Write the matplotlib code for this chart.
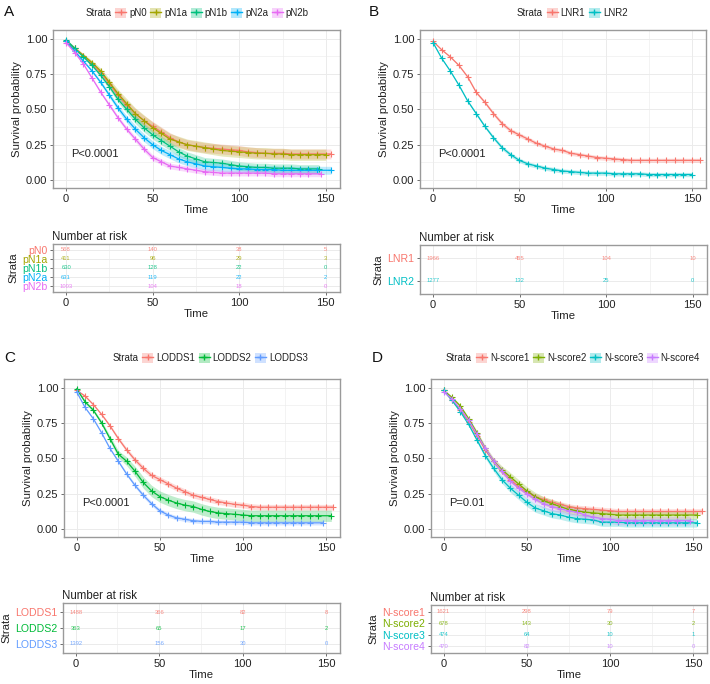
import numpy as np
import matplotlib
matplotlib.use("Agg")
import matplotlib.pyplot as plt
from matplotlib.patches import Patch
from matplotlib.lines import Line2D

plt.rcParams["font.family"] = ["Liberation Sans", "DejaVu Sans"]

# -----------------------------
# DATA
# -----------------------------
grid = list(range(0, 160, 5))
risk_times = [0, 50, 100, 150]

# Panel A
names_a = ["pN0", "pN1a", "pN1b", "pN2a", "pN2b"]
colors_a = ["#F8766D", "#A3A500", "#00BF7D", "#00B0F6", "#E76BF3"]
surv_a = [
    [0.98, 0.93, 0.88, 0.82, 0.76, 0.68, 0.60, 0.53, 0.47, 0.42, 0.38, 0.34, 0.30, 0.27, 0.25, 0.24,
     0.23, 0.225, 0.22, 0.215, 0.21, 0.20, 0.195, 0.19, 0.19, 0.19, 0.185, 0.185, 0.185, 0.185, 0.185],
    [0.98, 0.93, 0.88, 0.83, 0.77, 0.69, 0.61, 0.54, 0.47, 0.42, 0.37, 0.33, 0.29, 0.27, 0.25, 0.24,
     0.23, 0.22, 0.21, 0.205, 0.20, 0.195, 0.19, 0.19, 0.185, 0.185, 0.18, 0.18, 0.18, 0.18, 0.18],
    [0.99, 0.93, 0.87, 0.81, 0.74, 0.66, 0.57, 0.50, 0.43, 0.37, 0.32, 0.28, 0.24, 0.20, 0.17, 0.15,
     0.13, 0.125, 0.12, 0.11, 0.10, 0.095, 0.09, 0.09, 0.085, 0.085, 0.085, 0.08, 0.08, 0.08],
    [0.98, 0.91, 0.84, 0.77, 0.69, 0.60, 0.51, 0.43, 0.36, 0.30, 0.25, 0.21, 0.18, 0.15, 0.13, 0.115,
     0.10, 0.095, 0.09, 0.085, 0.08, 0.08, 0.075, 0.075, 0.075, 0.07, 0.07, 0.07, 0.07, 0.07, 0.07],
    [0.97, 0.90, 0.82, 0.72, 0.62, 0.53, 0.44, 0.36, 0.29, 0.22, 0.16, 0.13, 0.10, 0.09, 0.08, 0.07,
     0.06, 0.055, 0.05, 0.05, 0.05, 0.05, 0.05, 0.05, 0.045, 0.045, 0.045, 0.045, 0.045, 0.045],
]
ends_a = [153, 150, 146, 153, 147]
ci_a = [0.035, 0.04, 0.03, 0.028, 0.02]
risk_a = [[568, 140, 38, 5], [411, 96, 29, 3], [630, 128, 22, 0], [631, 119, 22, 2], [1003, 104, 18, 0]]

# Panel B
names_b = ["LNR1", "LNR2"]
colors_b = ["#F8766D", "#00BFC4"]
surv_b = [
    [0.98, 0.92, 0.87, 0.81, 0.73, 0.62, 0.55, 0.47, 0.40, 0.35, 0.32, 0.29, 0.26, 0.24, 0.22, 0.21,
     0.19, 0.18, 0.17, 0.16, 0.155, 0.15, 0.145, 0.14, 0.14, 0.14, 0.14, 0.14, 0.14, 0.14, 0.14, 0.14],
    [0.97, 0.86, 0.77, 0.67, 0.56, 0.47, 0.38, 0.30, 0.23, 0.18, 0.14, 0.115, 0.10, 0.085, 0.075, 0.065,
     0.06, 0.055, 0.05, 0.05, 0.05, 0.045, 0.045, 0.045, 0.045, 0.04, 0.04, 0.04, 0.04, 0.04, 0.04],
]
ends_b = [155, 150]
ci_b = [0.015, 0.015]
risk_b = [[1966, 455, 104, 10], [1277, 132, 25, 0]]

# Panel C
names_c = ["LODDS1", "LODDS2", "LODDS3"]
colors_c = ["#F8766D", "#00BA38", "#619CFF"]
surv_c = [
    [0.98, 0.94, 0.88, 0.81, 0.73, 0.64, 0.56, 0.49, 0.43, 0.38, 0.35, 0.32, 0.29, 0.265, 0.24, 0.225,
     0.21, 0.195, 0.185, 0.175, 0.17, 0.16, 0.155, 0.155, 0.155, 0.155, 0.155, 0.155, 0.155, 0.155, 0.155, 0.155],
    [0.99, 0.90, 0.84, 0.75, 0.64, 0.53, 0.48, 0.41, 0.33, 0.27, 0.23, 0.205, 0.185, 0.17, 0.16, 0.14,
     0.125, 0.115, 0.11, 0.105, 0.10, 0.095, 0.095, 0.095, 0.095, 0.095, 0.095, 0.095, 0.095, 0.095, 0.095],
    [0.97, 0.86, 0.78, 0.68, 0.57, 0.48, 0.39, 0.31, 0.24, 0.18, 0.13, 0.10, 0.08, 0.07, 0.06, 0.055,
     0.055, 0.05, 0.05, 0.05, 0.05, 0.045, 0.045, 0.045, 0.045, 0.045, 0.045, 0.045, 0.045, 0.045],
]
ends_c = [154, 153, 148]
ci_c = [0.02, 0.04, 0.015]
risk_c = [[1488, 366, 82, 8], [363, 65, 17, 2], [1392, 156, 30, 0]]

# Panel D
names_d = ["N-score1", "N-score2", "N-score3", "N-score4"]
colors_d = ["#F8766D", "#7CAE00", "#00BFC4", "#C77CFF"]
surv_d = [
    [0.98, 0.91, 0.84, 0.76, 0.66, 0.56, 0.48, 0.41, 0.35, 0.30, 0.26, 0.23, 0.21, 0.19, 0.175, 0.16,
     0.15, 0.145, 0.14, 0.135, 0.13, 0.125, 0.125, 0.125, 0.125, 0.125, 0.125, 0.125, 0.125, 0.125, 0.125, 0.125],
    [0.98, 0.93, 0.87, 0.78, 0.68, 0.57, 0.48, 0.42, 0.37, 0.32, 0.27, 0.23, 0.20, 0.18, 0.16, 0.14,
     0.13, 0.12, 0.115, 0.11, 0.105, 0.10, 0.10, 0.10, 0.10, 0.10, 0.10, 0.10, 0.10, 0.10, 0.10],
    [0.98, 0.91, 0.83, 0.74, 0.63, 0.52, 0.43, 0.35, 0.29, 0.24, 0.19, 0.15, 0.13, 0.11, 0.10, 0.085,
     0.075, 0.07, 0.065, 0.05, 0.05, 0.05, 0.045, 0.045, 0.045, 0.045, 0.045, 0.045, 0.045, 0.045, 0.045],
    [0.97, 0.92, 0.85, 0.77, 0.67, 0.57, 0.48, 0.41, 0.34, 0.29, 0.25, 0.21, 0.18, 0.16, 0.145, 0.13,
     0.12, 0.10, 0.085, 0.075, 0.07, 0.06, 0.06, 0.06, 0.06, 0.06, 0.06, 0.06, 0.06, 0.06],
]
ends_d = [155, 152, 152, 148]
ci_d = [0.02, 0.03, 0.03, 0.03]
risk_d = [[1621, 298, 79, 7], [678, 143, 30, 2], [474, 64, 10, 1], [470, 82, 10, 0]]

# -----------------------------
# LAYOUT (pixels)
# -----------------------------
W, H = 710, 684
fig = plt.figure(figsize=(W / 100, H / 100), dpi=100)


def px_axes(left, top, right, bottom):
    return fig.add_axes([left / W, 1 - bottom / H, (right - left) / W, (bottom - top) / H])


XLIM = (-7.6, 158.2)
FRAME = "#9a9a9a"
GRIDC = "#ebebeb"
TXT = "#222222"


def style_axes(ax):
    for s in ax.spines.values():
        s.set_color(FRAME)
        s.set_linewidth(1.0)
    ax.tick_params(length=2.5, width=0.6, color="#555555", labelsize=8, labelcolor=TXT, pad=1.5)
    ax.set_xlim(*XLIM)
    ax.set_xticks([0, 50, 100, 150])
    ax.set_xticks([25, 75, 125], minor=True)
    ax.tick_params(which="minor", length=0)
    ax.grid(True, which="major", color=GRIDC, lw=0.7)
    ax.grid(True, which="minor", color=GRIDC, lw=0.4)
    ax.set_axisbelow(True)


def draw_km(ax, surv, colors, ends, ci, pval):
    style_axes(ax)
    for s, c, e, hw in zip(surv, colors, ends, ci):
        t = np.array(grid[:len(s)], dtype=float)
        t[-1] = e
        s = np.array(s)
        band = hw * np.clip(t / 40, 0.3, 1.0)
        ax.fill_between(t, s - band, s + band, color=c, alpha=0.25, lw=0)
        ax.plot(t, s, color=c, lw=0.9, marker="+", ms=4.5, mew=0.8)
    ax.set_ylim(-0.055, 1.06)
    ax.set_yticks([0, 0.25, 0.5, 0.75, 1.0])
    ax.set_yticklabels(["0.00", "0.25", "0.50", "0.75", "1.00"])
    ax.set_yticks([0.125, 0.375, 0.625, 0.875], minor=True)
    ax.set_ylabel("Survival probability", fontsize=8.2, color=TXT, labelpad=3)
    ax.set_xlabel("Time", fontsize=8.2, color=TXT, labelpad=1)
    ax.text(3.0, 0.185, pval, fontsize=8, color=TXT, ha="left", va="center")


def draw_table(ax, names, colors, risk):
    style_axes(ax)
    n = len(names)
    ys = [n - i for i in range(n)]
    for y, c, row in zip(ys, colors, risk):
        for tt, v in zip(risk_times, row):
            ax.text(tt, y, str(v), color=c, alpha=0.85, fontsize=4.2, ha="center", va="center")
    ax.set_ylim(0.4, n + 0.6)
    ax.set_yticks(ys)
    ax.set_yticklabels(names, fontsize=7.6)
    for lab, c in zip(ax.get_yticklabels(), colors):
        lab.set_color(c)
    ax.set_ylabel("Strata", fontsize=8.2, color=TXT, labelpad=3)
    ax.set_xlabel("Time", fontsize=8.2, color=TXT, labelpad=1)
    ax.set_title("Number at risk", fontsize=8.3, color=TXT, loc="left", x=-0.005, pad=3)


def draw_legend(names, colors, cx, cy):
    handles = [(Patch(facecolor=c, alpha=0.3, lw=0), Line2D([], [], color=c, lw=1, marker="+", ms=5))
               for c in colors]
    leg = fig.legend(handles, names, ncol=len(names), loc="center", bbox_to_anchor=(cx / W, 1 - cy / H),
                     frameon=False, fontsize=7, handlelength=1.15, handleheight=1.15, columnspacing=0.35,
                     handletextpad=0.3, borderaxespad=0, borderpad=0)
    for t in leg.get_texts():
        t.set_color(TXT)
    fig.canvas.draw()
    bb = leg.get_window_extent()
    fig.text((bb.x0 - 4) / W, 1 - cy / H, "Strata", fontsize=7, color=TXT, ha="right", va="center")


panels = [
    # letter pos, km box, table box, legend center, data
    ((4, 12), (53, 30, 340, 188), (53, 244, 340, 292), (212, 13),
     surv_a, colors_a, ends_a, ci_a, names_a, risk_a, "P<0.0001", "A"),
    ((369, 12), (420, 30, 706, 188), (420, 245, 707, 294), (587, 13),
     surv_b, colors_b, ends_b, ci_b, names_b, risk_b, "P<0.0001", "B"),
    ((4, 358), (64, 379, 340, 537), (63, 603, 340, 653), (225, 358),
     surv_c, colors_c, ends_c, ci_c, names_c, risk_c, "P<0.0001", "C"),
    ((372, 358), (431, 379, 707, 537), (431, 605, 707, 653), (588, 358),
     surv_d, colors_d, ends_d, ci_d, names_d, risk_d, "P=0.01", "D"),
]

for (lpos, kbox, tbox, lc, surv, cols, ends, ci, names, risk, pval, letter) in panels:
    ax_km = px_axes(*kbox)
    draw_km(ax_km, surv, cols, ends, ci, pval)
    ax_tb = px_axes(*tbox)
    draw_table(ax_tb, names, cols, risk)
    fig.text(lpos[0] / W, 1 - lpos[1] / H, letter, fontsize=11, color="#111111", ha="left", va="center")
    draw_legend(names, cols, lc[0], lc[1])

fig.savefig("out.png", dpi=100)
